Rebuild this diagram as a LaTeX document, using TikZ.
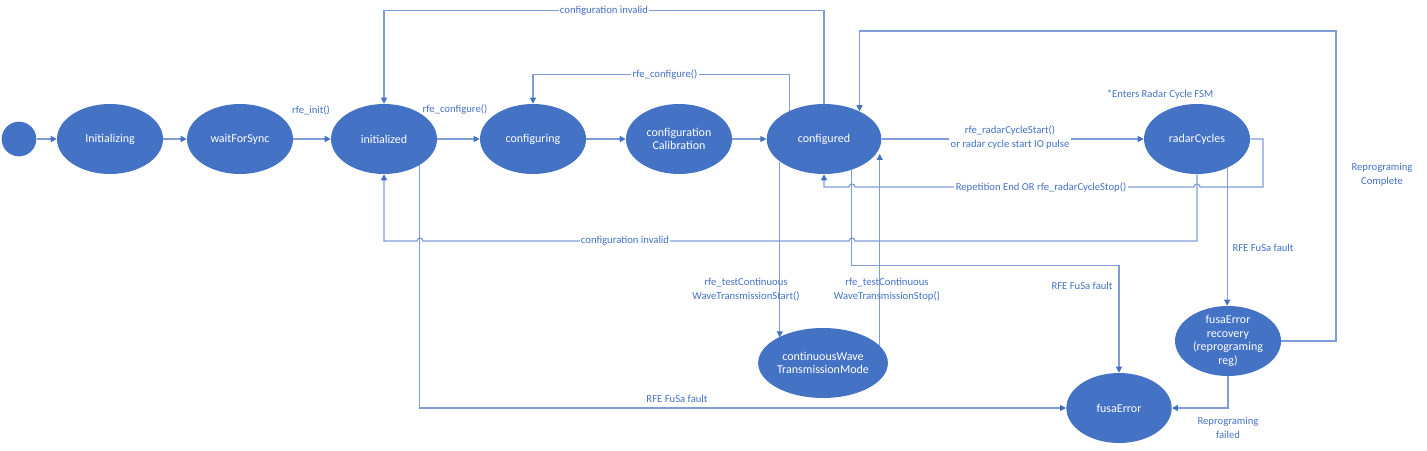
\documentclass[tikz,border=0pt]{standalone}
\usepackage{fontspec}
\setmainfont{Carlito}
\usetikzlibrary{arrows.meta,shapes.geometric}

\definecolor{stateblue}{HTML}{4472C4}
\definecolor{lineblue}{HTML}{7F9CD9}

\begin{document}
\begin{tikzpicture}[x=0.75pt,y=-0.75pt,
  state/.style={ellipse,fill=stateblue,text=white,inner sep=0pt,minimum width=79.5pt,minimum height=52.5pt,align=center,font=\fontsize{9}{10.3}\selectfont},
  tr/.style={draw=lineblue,line width=0.9pt,-{Triangle[length=4.5pt,width=4.5pt,color=stateblue]}},
  lbl/.style={text=stateblue,align=center,inner sep=1pt,font=\fontsize{8}{10.5}\selectfont},
  onln/.style={lbl,fill=white}]
\useasboundingbox (0,0) rectangle (1427,450);

% states
\node[circle,fill=stateblue,minimum size=26pt,inner sep=0pt] (start) at (19,139) {};
\node[state] (initg) at (110,139) {Initializing};
\node[state] (wait) at (240,139) {waitForSync};
\node[state] (inid) at (384,139) {initialized};
\node[state] (cfgg) at (533,139) {configuring};
\node[state] (cal) at (679,139) {configuration\\Calibration};
\node[state,minimum width=86pt] (cfgd) at (824,139) {configured};
\node[state] (radar) at (1197,139) {radarCycles};
\node[state,minimum width=90pt] (cw) at (823,363) {continuousWave\\TransmissionMode};
\node[state,minimum width=79pt] (fe) at (1119,408) {fusaError};
\node[state,inner ysep=-4pt] (rec) at (1228,341) {fusaError\\recovery\\(reprograming\\reg)};

% main row
\draw[tr] (start) -- (initg);
\draw[tr] (initg) -- (wait);
\draw[tr] (wait) -- (inid);
\draw[tr] (inid) -- (cfgg);
\draw[tr] (cfgg) -- (cal);
\draw[tr] (cal) -- (cfgd);
\draw[tr] (cfgd) -- (radar);

% loops back
\draw[tr] (cfgd.north) -- ++(0,-93) -| (inid.north);
\draw[tr] (cfgd.141.5) -- ++(0,-36) -| (cfgg.north);
\draw[tr] (rec.east) -| (1336,31) -| (cfgd.38.5);
\draw[tr] (radar.east) -| (1263,187) -- (1200,187)
  arc[start angle=0,end angle=180,radius=2.25pt] -- (855,187)
  arc[start angle=0,end angle=180,radius=2.25pt] -| (cfgd.south);
\draw[tr] (radar.south) |- (855,241)
  arc[start angle=0,end angle=180,radius=2.25pt] -- (423,241)
  arc[start angle=0,end angle=180,radius=2.25pt] -| (inid.south);

% continuous wave
\draw[tr] (cfgd.207) -- (cfgd.207 |- cw.150.4);
\draw[tr] (cw.17.2) -- (cw.17.2 |- cfgd.344);

% faults
\draw[tr] (inid.324.5) |- (fe.west);
\draw[tr] (cfgd.312.5) -- ++(0,96) -| (fe.north);
\draw[tr] (radar.316) -- (radar.316 |- rec.north);
\draw[tr] (rec.south) |- (fe.east);

% labels
\node[lbl] (linit) at (311,110) {rfe\_init()};
\node[lbl] (lcfg) at (455,110) {rfe\_configure()};
\node[onln] (lcfgloop) at (665,75) {rfe\_configure()};
\node[onln] (linv1) at (604,11) {configuration invalid};
\node[onln] (linv2) at (625,241) {configuration invalid};
\node[onln] (lstart) at (1010,137) {rfe\_radarCycleStart()\\or radar cycle start IO pulse};
\node[onln] (lstop) at (1041,187) {Repetition End OR rfe\_radarCycleStop()};
\node[lbl] (lenter) at (1160,95) {*Enters Radar Cycle FSM};
\node[lbl] (lcomp) at (1382,175) {Reprograming\\Complete};
\node[lbl] (lcwon) at (746,290) {rfe\_testContinuous\\WaveTransmissionStart()};
\node[lbl] (lcwoff) at (887,290) {rfe\_testContinuous\\WaveTransmissionStop()};
\node[lbl] (lfault1) at (677,399) {RFE FuSa fault};
\node[lbl] (lfault2) at (1082,286) {RFE FuSa fault};
\node[lbl] (lfault3) at (1263,248) {RFE FuSa fault};
\node[lbl] (lfail) at (1228,428) {Reprograming\\failed};
\end{tikzpicture}
\end{document}
